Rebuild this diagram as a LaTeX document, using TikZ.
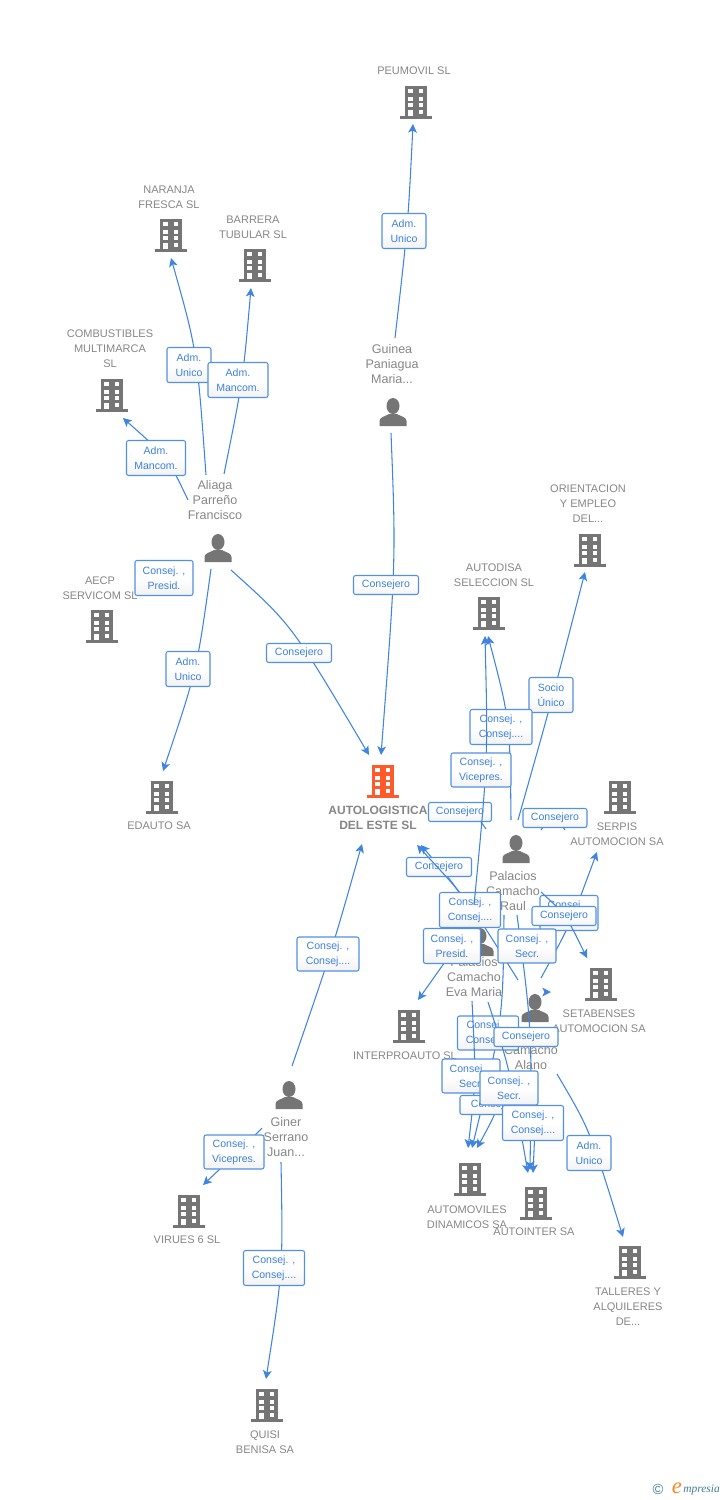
\documentclass[tikz,border=0pt]{standalone}
\usepackage{fontspec}
\setmainfont{Liberation Sans}
\newfontfamily\logofont{Liberation Serif}
\usetikzlibrary{arrows.meta}
\definecolor{lnk}{HTML}{3F84E0}
\definecolor{lbltxt}{HTML}{3C80DE}
\definecolor{icn}{HTML}{757575}
\definecolor{txt}{HTML}{868686}
\definecolor{hot}{HTML}{FF5A2B}
\definecolor{logob}{HTML}{3F7C99}
\definecolor{logoo}{HTML}{F58A1F}
\tikzset{
  cn/.style={draw=lnk,line width=.8pt,-{Stealth[length=6.5pt,width=6.5pt,inset=1.6pt]}},
  cnplain/.style={draw=lnk,line width=.8pt},
  lbl/.style={draw=lnk!90,line width=.8pt,rounded corners=1.6pt,top color=white,bottom color=black!5,middle color=white,
    text=lbltxt,inner sep=0pt,align=center,font=\fontsize{7.9}{11.25}\selectfont},
  ent/.style={text=txt,inner sep=0pt,align=center,font=\fontsize{8.25}{11.25}\selectfont},
  per/.style={text=txt,inner sep=0pt,align=center,font=\fontsize{9.4}{11.25}\selectfont},
  mainent/.style={text=txt,inner sep=0pt,align=center,font=\fontsize{9}{11.25}\selectfont\bfseries},
}
\newcommand\conn[4]{\coordinate (#1s) at (#2);\coordinate (#1t) at (#4);
  \draw[cn] (#1s) .. controls (#3) .. (#1t);}
\newcommand\hid[4]{\coordinate (#1s) at (#2);\coordinate (#1t) at (#4);
  \draw[cnplain] (#1s) .. controls (#3) .. (#1t);}
\newcommand\lab[5]{\node[lbl,minimum width=#3*.75pt,minimum height=#4*.75pt] (#1) at (#2) {#5};}
\newcommand\bld[3]{\begin{scope}[shift={(#2)}]
  \fill[#3] (-11,-16.5) rectangle (11,15);
  \fill[#3] (-16,13.5) rectangle (16,16.5);
  \foreach \yy in {-13,-5.5,1}{
    \fill[white] (-7.7,\yy) rectangle (-3.3,\yy+4);
    \fill[white] (2.7,\yy) rectangle (7.1,\yy+4);}
  \fill[white] (-7.7,7.5) rectangle (-3.3,14);
  \fill[white] (2.7,7.5) rectangle (7.1,12);
  \node[coordinate] (#1) at (0,0) {};
  \end{scope}}
\newcommand\pers[2]{\begin{scope}[shift={(#2)}]
  \fill[icn] (0,-6) ellipse (6.5 and 8);
  \fill[icn] (-13.5,14) -- (-13.5,9) .. controls (-13.5,5) and (-8,4.5) .. (-4,2) -- (4,2) .. controls (8,4.5) and (13.5,5) .. (13.5,9) -- (13.5,14) -- cycle;
  \node[coordinate] (#1) at (0,0) {};
  \end{scope}}
\begin{document}
\begin{tikzpicture}[x=.75pt,y=-.75pt]
\useasboundingbox (0,0) rectangle (728,1500);
% entity texts and icons
\node[ent] (tPeumovil) at (414,71) {PEUMOVIL SL};
\bld{iPeumovil}{416,102}{icn}
\node[ent] (tNaranja) at (169,197) {NARANJA\\FRESCA SL};
\bld{iNaranja}{171,235}{icn}
\node[ent] (tBarrera) at (253,227) {BARRERA\\TUBULAR  SL};
\bld{iBarrera}{255,265}{icn}
\node[ent] (tCombus) at (110,349) {COMBUSTIBLES\\MULTIMARCA\\SL};
\bld{iCombus}{112,395}{icn}
\node[ent] (tAecp) at (100,588) {AECP\\SERVICOM SL};
\bld{iAecp}{102,626}{icn}
\node[ent] (tEdauto) at (159,826) {EDAUTO SA};
\bld{iEdauto}{162,797}{icn}
\bld{iAuto}{383,781}{hot}
\node[mainent] (tAuto) at (378,818) {AUTOLOGISTICA\\DEL ESTE  SL};
\node[ent] (tAutodisa) at (494,575) {AUTODISA\\SELECCION  SL};
\bld{iAutodisa}{489,613}{icn}
\node[ent] (tOrient) at (588,504) {ORIENTACION\\Y EMPLEO\\DEL...};
\bld{iOrient}{590,550}{icn}
\node[ent] (tSerpis) at (617,834) {SERPIS\\AUTOMOCION SA};
\bld{iSerpis}{620,797}{icn}
\node[ent] (tSetab) at (599,1021) {SETABENSES\\AUTOMOCION SA};
\bld{iSetab}{601,984}{icn}
\node[ent] (tInter) at (405,1056) {INTERPROAUTO SL};
\bld{iInter}{409,1026}{icn}
\node[ent] (tDinam) at (467,1217) {AUTOMOVILES\\DINAMICOS SA};
\bld{iDinam}{470,1179}{icn}
\node[ent] (tAutoint) at (534,1232) {AUTOINTER SA};
\bld{iAutoint}{536,1203}{icn}
\node[ent] (tTalleres) at (628,1307) {TALLERES Y\\ALQUILERES\\DE...};
\bld{iTalleres}{630,1262}{icn}
\node[ent] (tVirues) at (187,1240) {VIRUES 6  SL};
\bld{iVirues}{189,1211}{icn}
\node[ent] (tQuisi) at (265,1442) {QUISI\\BENISA SA};
\bld{iQuisi}{267,1405}{icn}
% persons
\node[per] (tGuinea) at (392,364) {Guinea\\Paniagua\\Maria...};
\pers{pGuinea}{393,412}
\node[per] (tAliaga) at (215,500) {Aliaga\\Parreño\\Francisco};
\pers{pAliaga}{218,548}
\node[per] (tRaul) at (513,891) {Palacios\\Camacho\\Raul};
\pers{pRaul}{516,849}
\pers{pEva}{480,942}
\node[per] (tEva) at (474,977) {Palacios\\Camacho\\Eva Maria};
\pers{pAlano}{535,1008}
\node[per] (tAlano) at (531,1050) {Palacios\\Camacho\\Alano};
\node[per] (tGiner) at (286,1137) {Giner\\Serrano\\Juan...};
\pers{pGiner}{289,1095}
% left and centre connectors
\conn{a}{395,338}{408,225}{413,124}
\lab{la}{404,231}{44}{35}{Adm.\\Unico}
\conn{b}{391,433}{396,560}{381,755}
\lab{lb}{386,585}{65}{19}{Consejero}
\conn{c}{206,475}{197,350}{171,258}
\lab{lc}{189,365}{44}{35}{Adm.\\Unico}
\conn{d}{224,474}{243,380}{251,288}
\lab{ld}{238,380}{60}{35}{Adm.\\Mancom.}
\conn{e}{188,500}{168,458}{123,418}
\lab{le}{156,458}{59}{35}{Adm.\\Mancom.}
\hid{f}{180,572}{165,578}{150,585}
\lab{lf}{164,578}{58}{35}{Consej. ,\\Presid.}
\conn{g}{211,569}{197,670}{163,771}
\lab{lg}{188,669}{44}{35}{Adm.\\Unico}
\conn{h}{231,570}{292,625}{369,755}
\lab{lh}{299,653}{65}{19}{Consejero}
\conn{i}{292,1066}{332,950}{362,844}
\lab{li}{328,954}{62}{34}{Consej. ,\\Consej....}
\conn{j}{262,1128}{240,1150}{203,1185}
\lab{lj}{234,1152}{60}{34}{Consej. ,\\Vicepres.}
\conn{k}{281,1162}{283,1270}{266,1379}
\lab{lk}{274,1268}{61}{35}{Consej. ,\\Consej....}
% right cluster
\conn{m}{518,820}{552,700}{585,572}
\lab{lm}{551,695}{44}{35}{Socio\\Único}
\conn{n}{511,820}{510,720}{488,636}
\lab{ln}{501,727}{62}{35}{Consej. ,\\Consej....}
\hid{o}{486,829}{470,806}{440,808}
\lab{lo}{460,812}{63}{19}{Consejero}
\hid{q}{541,830}{553,813}{565,830}
\lab{lq}{555,818}{64}{19}{Consejero}
\conn{r}{475,918}{455,885}{421,845}
\lab{lr}{439,867}{65}{19}{Consejero}
\conn{s}{518,980}{468,900}{417,845}
\lab{ls}{470,910}{61}{35}{Consej. ,\\Consej....}
\conn{t}{474,905}{488,760}{485,636}
\lab{lt}{481,770}{60}{34}{Consej. ,\\Vicepres.}
\conn{u}{541,978}{570,925}{597,852}
\node[lbl,minimum width=43.5pt,minimum height=26.25pt] (lu) at (569,913) {Consej. ,\\Consej....};
\conn{v}{541,892}{566,915}{587,958}
\lab{lv}{564,916}{64}{19}{Consejero}
\conn{w}{465,930}{450,955}{418,1000}
\lab{lw}{452,946}{57}{35}{Consej. ,\\Presid.}
\conn{x}{504,915}{503,1020}{472,1148}
\lab{lxx}{488,1033}{61}{34}{Consej. ,\\Consej....}
\conn{y}{517,915}{532,1030}{530,1170}
\lab{ly}{527,946}{58}{34}{Consej. ,\\Secr.}
\conn{z}{472,1001}{476,1080}{468,1148}
\lab{lz}{471,1076}{58}{34}{Consej. ,\\Secr.}
\conn{aa}{505,1085}{495,1115}{477,1148}
\lab{laa}{495,1105}{70}{19}{Consejero}
\conn{ab}{488,1002}{510,1070}{528,1173}
\conn{ac}{535,1085}{535,1130}{533,1173}
\lab{lac}{533,1123}{61}{35}{Consej. ,\\Consej....}
\lab{lab}{509,1088}{58}{34}{Consej. ,\\Secr.}
\hid{ad}{520,1030}{526,1037}{534,1040}
\lab{lad}{526,1037}{64}{19}{Consejero}
\conn{ae}{546,992}{548,992}{551,992}
\conn{af}{557,1074}{590,1130}{623,1237}
\lab{laf}{589,1153}{44}{35}{Adm.\\Unico}
% logo
\node[text=logob,inner sep=0pt,font=\fontsize{11}{11}\selectfont] (logoC) at (658,1489) {©};
\node[text=logoo,inner sep=0pt,font=\logofont\itshape\fontsize{17}{17}\selectfont] (logoE) at (677,1488) {e};
\node[text=logob,inner sep=0pt,anchor=west,font=\logofont\itshape\fontsize{8.6}{9}\selectfont] (logoT) at (683,1490) {mpresia};
\end{tikzpicture}
\end{document}
